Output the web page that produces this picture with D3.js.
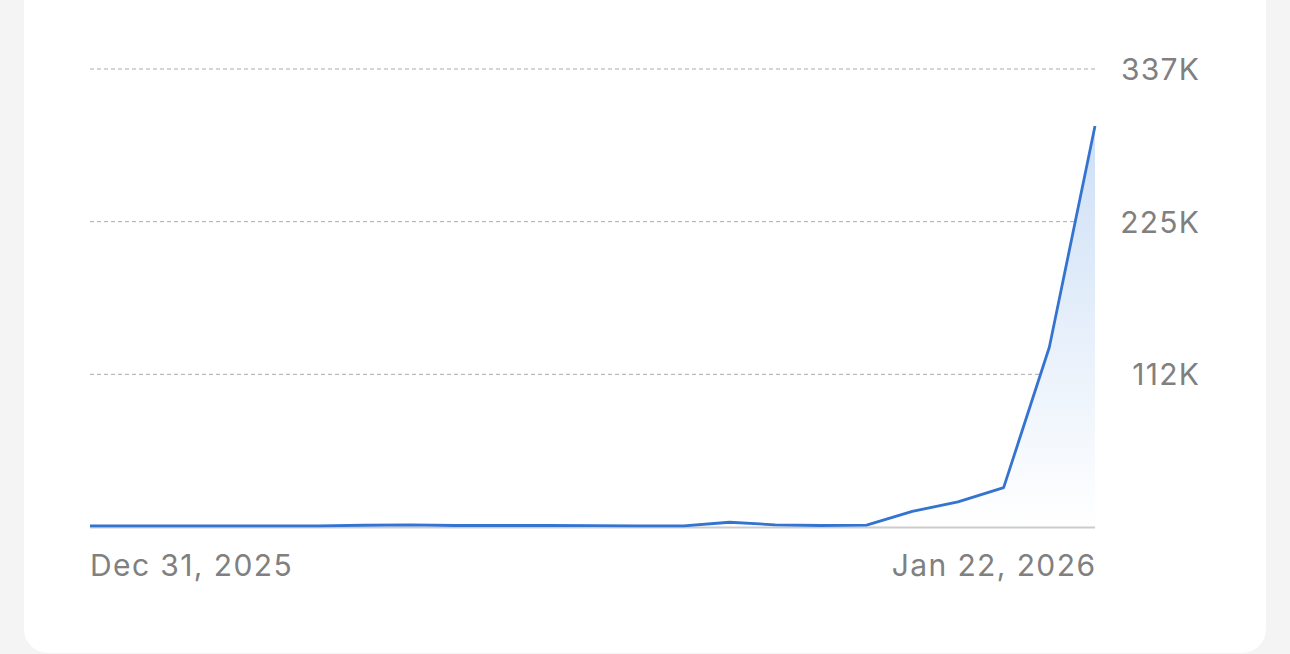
<!DOCTYPE html>
<html><head><meta charset="utf-8">
<script src="https://cdn.jsdelivr.net/npm/d3@7"></script>
<style>
html,body{margin:0;padding:0;background:#f4f4f4;}
svg{display:block;}
</style></head>
<body>
<svg id="c" width="1290" height="654"></svg>
<script>
const dates = ["2025-12-31","2026-01-01","2026-01-02","2026-01-03","2026-01-04","2026-01-05","2026-01-06","2026-01-07","2026-01-08","2026-01-09","2026-01-10","2026-01-11","2026-01-12","2026-01-13","2026-01-14","2026-01-15","2026-01-16","2026-01-17","2026-01-18","2026-01-19","2026-01-20","2026-01-21","2026-01-22"];
const values = [900,900,900,900,900,900,1300,1600,1100,1100,1100,1000,900,900,3500,1600,1100,1400,11500,18500,29000,132500,295500];
const yTicks = [0,112500,225000,337500];
const yTickLabels = ["","112K","225K","337K"];
const xTickLabels = ["Dec 31, 2025","Jan 22, 2026"];

const FONT = "Inter, Roboto, 'Noto Sans', sans-serif";
const svg = d3.select("#c");
const parse = d3.utcParse("%Y-%m-%d");
const data = dates.map((d,i)=>({date:parse(d), v:values[i]}));

// card
svg.append("rect").attr("x",24).attr("y",-40).attr("width",1242).attr("height",693)
  .attr("rx",24).attr("fill","#ffffff");

const x = d3.scaleUtc().domain(d3.extent(data,d=>d.date)).range([90,1095]);
const y = d3.scaleLinear().domain([0,337500]).range([527,69]);

const defs = svg.append("defs");
const grad = defs.append("linearGradient").attr("id","g").attr("gradientUnits","userSpaceOnUse")
  .attr("x1",0).attr("x2",0).attr("y1",y(295500)).attr("y2",y(0));
grad.append("stop").attr("offset","0%").attr("stop-color","#cddff6");
grad.append("stop").attr("offset","100%").attr("stop-color","#ffffff");

// grid
const grid = svg.append("g");
grid.selectAll("line").data(yTicks.filter(t=>t>0)).join("line")
  .attr("x1",90).attr("x2",1095).attr("y1",d=>y(d)).attr("y2",d=>y(d))
  .attr("stroke","#aaaaaa").attr("stroke-width",1).attr("stroke-dasharray","4,3");

// y labels via axis
const yAxis = d3.axisRight(y).tickValues(yTicks).tickFormat((d,i)=>yTickLabels[i]).tickSize(0).tickPadding(0);
const ya = svg.append("g").attr("transform","translate(1200,0)").call(yAxis);
ya.select(".domain").remove();
ya.selectAll("text").attr("text-anchor","end").attr("fill","#808080")
  .style("font-family",FONT).style("font-size","30px").style("letter-spacing","1.2px").attr("dy","0.35em");

// area
svg.append("path").datum(data)
  .attr("d", d3.area().x(d=>x(d.date)).y0(y(0)).y1(d=>y(d.v)))
  .attr("fill","url(#g)");

// baseline
svg.append("line").attr("x1",90).attr("x2",1095).attr("y1",y(0)+0.5).attr("y2",y(0)+0.5)
  .attr("stroke","#cccccc").attr("stroke-width",2);

// line
svg.append("path").datum(data)
  .attr("d", d3.line().x(d=>x(d.date)).y(d=>y(d.v)))
  .attr("fill","none").attr("stroke","#3473d0").attr("stroke-width",2.8).attr("stroke-linejoin","round");

// x labels
const xa = svg.append("g").attr("transform","translate(0,565)");
const firstLast = [data[0].date, data[data.length-1].date];
xa.selectAll("text").data(firstLast).join("text")
  .attr("x",(d,i)=>x(d) + (i===0?0:1.4)).attr("y",0).attr("dy","0.35em")
  .attr("text-anchor",(d,i)=>i===0?"start":"end")
  .attr("fill","#808080").style("font-family",FONT).style("font-size","30px").style("letter-spacing","1.4px")
  .text((d,i)=>xTickLabels[i]);
</script>
</body></html>
